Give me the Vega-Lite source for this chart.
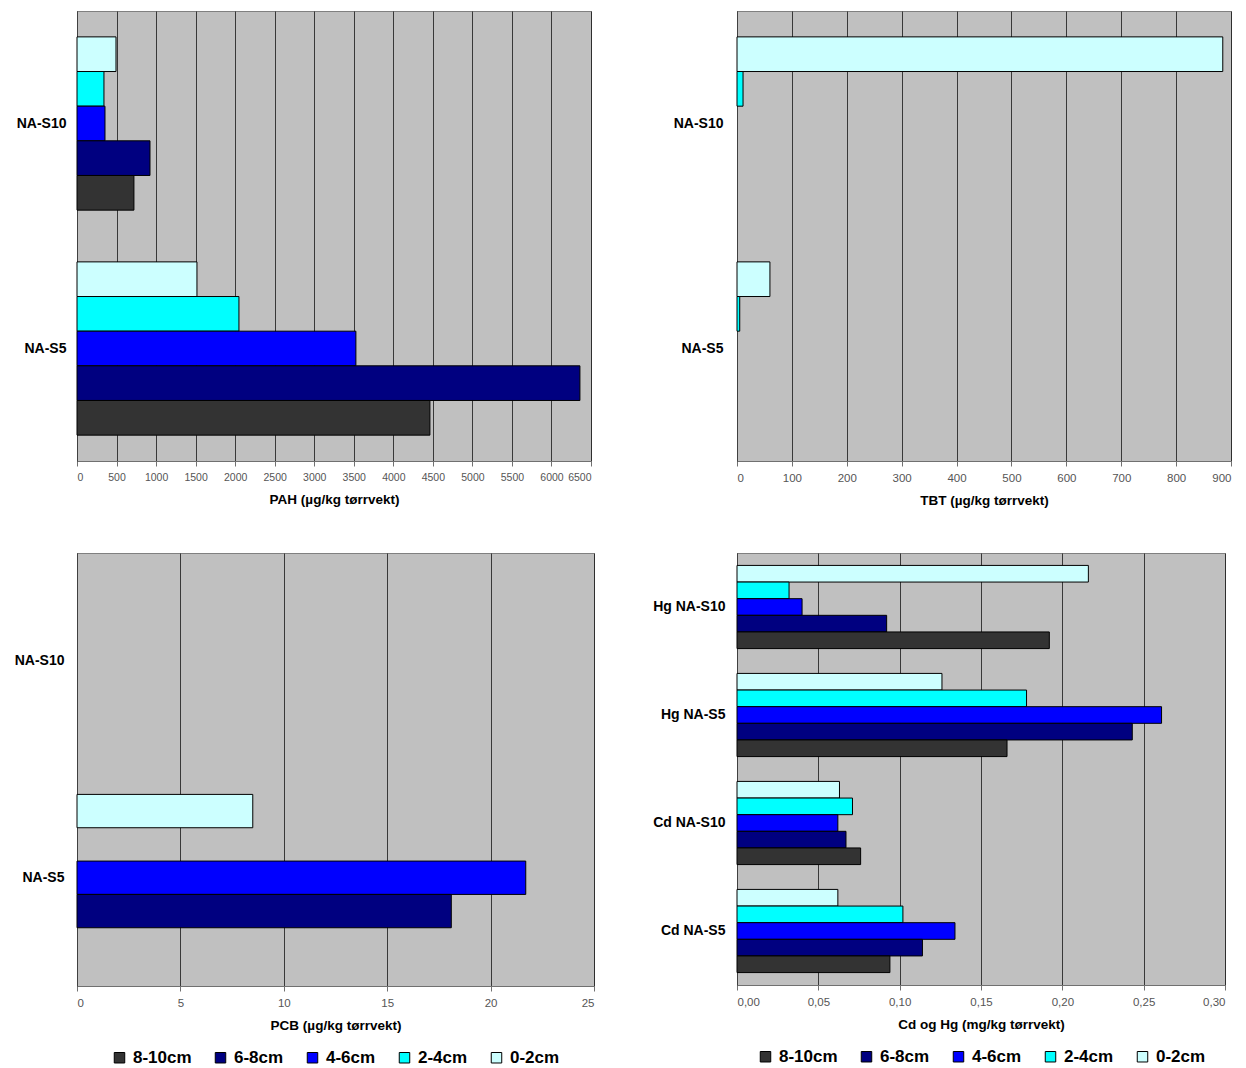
{
  "$schema": "https://vega.github.io/schema/vega-lite/v6.json",
  "padding": {"left": 5, "top": 10, "right": 5, "bottom": 5},
  "columns": 2,
  "bounds": "flush",
  "spacing": {"row": 92, "column": 143},
  "resolve": {
    "scale": {"x": "independent", "y": "independent", "yOffset": "independent", "color": "shared"},
    "legend": {"color": "independent"}
  },
  "concat": [
    {
      "width": 514,
      "height": 450,
      "data": {"values": [
        {"site": "NA-S10", "depth": "0-2cm", "value": 493},
        {"site": "NA-S10", "depth": "2-4cm", "value": 341},
        {"site": "NA-S10", "depth": "4-6cm", "value": 354},
        {"site": "NA-S10", "depth": "6-8cm", "value": 923},
        {"site": "NA-S10", "depth": "8-10cm", "value": 720},
        {"site": "NA-S5", "depth": "0-2cm", "value": 1517},
        {"site": "NA-S5", "depth": "2-4cm", "value": 2048},
        {"site": "NA-S5", "depth": "4-6cm", "value": 3527},
        {"site": "NA-S5", "depth": "6-8cm", "value": 6360},
        {"site": "NA-S5", "depth": "8-10cm", "value": 4463}
      ]},
      "mark": {"type": "bar", "stroke": "#000", "strokeWidth": 1},
      "encoding": {
        "y": {"field": "site", "type": "nominal", "scale": {"domain": ["NA-S10", "NA-S5"], "paddingInner": 0.23, "paddingOuter": 0.115}, "axis": {"minExtent": 71, "maxExtent": 71, "labelPadding": 11}},
        "yOffset": {"field": "depth", "type": "nominal", "scale": {"domain": ["0-2cm", "2-4cm", "4-6cm", "6-8cm", "8-10cm"], "paddingInner": 0, "paddingOuter": 0}},
        "x": {"field": "value", "type": "quantitative", "scale": {"domain": [0, 6500], "nice": false}, "axis": {"values": [0, 500, 1000, 1500, 2000, 2500, 3000, 3500, 4000, 4500, 5000, 5500, 6000, 6500], "format": "d", "labelFontSize": 10.5, "title": "PAH (µg/kg tørrvekt)"}},
        "color": {"field": "depth", "type": "nominal", "scale": {"domain": ["8-10cm", "6-8cm", "4-6cm", "2-4cm", "0-2cm"], "range": ["#333333", "#000080", "#0000FF", "#00FFFF", "#CCFFFF"]}, "legend": null}
      }
    },
    {
      "width": 494,
      "height": 450,
      "data": {"values": [
        {"site": "NA-S10", "depth": "0-2cm", "value": 885},
        {"site": "NA-S10", "depth": "2-4cm", "value": 11},
        {"site": "NA-S5", "depth": "0-2cm", "value": 60},
        {"site": "NA-S5", "depth": "2-4cm", "value": 5}
      ]},
      "mark": {"type": "bar", "stroke": "#000", "strokeWidth": 1},
      "encoding": {
        "y": {"field": "site", "type": "nominal", "scale": {"domain": ["NA-S10", "NA-S5"], "paddingInner": 0.23, "paddingOuter": 0.115}, "axis": {"labelPadding": 14}},
        "yOffset": {"field": "depth", "type": "nominal", "scale": {"domain": ["0-2cm", "2-4cm", "4-6cm", "6-8cm", "8-10cm"], "paddingInner": 0, "paddingOuter": 0}},
        "x": {"field": "value", "type": "quantitative", "scale": {"domain": [0, 900], "nice": false}, "axis": {"values": [0, 100, 200, 300, 400, 500, 600, 700, 800, 900], "format": "d", "title": "TBT (µg/kg tørrvekt)"}},
        "color": {"field": "depth", "type": "nominal", "scale": {"domain": ["8-10cm", "6-8cm", "4-6cm", "2-4cm", "0-2cm"], "range": ["#333333", "#000080", "#0000FF", "#00FFFF", "#CCFFFF"]}, "legend": null}
      }
    },
    {
      "width": 517,
      "height": 433,
      "data": {"values": [
        {"site": "NA-S5", "depth": "0-2cm", "value": 8.5},
        {"site": "NA-S5", "depth": "4-6cm", "value": 21.7},
        {"site": "NA-S5", "depth": "6-8cm", "value": 18.1}
      ]},
      "mark": {"type": "bar", "stroke": "#000", "strokeWidth": 1},
      "encoding": {
        "y": {"field": "site", "type": "nominal", "scale": {"domain": ["NA-S10", "NA-S5"], "paddingInner": 0.23, "paddingOuter": 0.115}, "axis": {"minExtent": 70, "maxExtent": 70, "labelPadding": 13}},
        "yOffset": {"field": "depth", "type": "nominal", "scale": {"domain": ["0-2cm", "2-4cm", "4-6cm", "6-8cm", "8-10cm"], "paddingInner": 0, "paddingOuter": 0}},
        "x": {"field": "value", "type": "quantitative", "scale": {"domain": [0, 25], "nice": false}, "axis": {"values": [0, 5, 10, 15, 20, 25], "format": "d", "title": "PCB (µg/kg tørrvekt)"}},
        "color": {"field": "depth", "type": "nominal", "scale": {"domain": ["8-10cm", "6-8cm", "4-6cm", "2-4cm", "0-2cm"], "range": ["#333333", "#000080", "#0000FF", "#00FFFF", "#CCFFFF"]}, "legend": {"orient": "bottom", "direction": "horizontal", "title": null}}
      }
    },
    {
      "width": 488,
      "height": 432,
      "data": {"values": [
        {"site": "Hg NA-S10", "depth": "0-2cm", "value": 0.216},
        {"site": "Hg NA-S10", "depth": "2-4cm", "value": 0.032},
        {"site": "Hg NA-S10", "depth": "4-6cm", "value": 0.040},
        {"site": "Hg NA-S10", "depth": "6-8cm", "value": 0.092},
        {"site": "Hg NA-S10", "depth": "8-10cm", "value": 0.192},
        {"site": "Hg NA-S5", "depth": "0-2cm", "value": 0.126},
        {"site": "Hg NA-S5", "depth": "2-4cm", "value": 0.178},
        {"site": "Hg NA-S5", "depth": "4-6cm", "value": 0.261},
        {"site": "Hg NA-S5", "depth": "6-8cm", "value": 0.243},
        {"site": "Hg NA-S5", "depth": "8-10cm", "value": 0.166},
        {"site": "Cd NA-S10", "depth": "0-2cm", "value": 0.063},
        {"site": "Cd NA-S10", "depth": "2-4cm", "value": 0.071},
        {"site": "Cd NA-S10", "depth": "4-6cm", "value": 0.062},
        {"site": "Cd NA-S10", "depth": "6-8cm", "value": 0.067},
        {"site": "Cd NA-S10", "depth": "8-10cm", "value": 0.076},
        {"site": "Cd NA-S5", "depth": "0-2cm", "value": 0.062},
        {"site": "Cd NA-S5", "depth": "2-4cm", "value": 0.102},
        {"site": "Cd NA-S5", "depth": "4-6cm", "value": 0.134},
        {"site": "Cd NA-S5", "depth": "6-8cm", "value": 0.114},
        {"site": "Cd NA-S5", "depth": "8-10cm", "value": 0.094}
      ]},
      "mark": {"type": "bar", "stroke": "#000", "strokeWidth": 1},
      "encoding": {
        "y": {"field": "site", "type": "nominal", "scale": {"domain": ["Hg NA-S10", "Hg NA-S5", "Cd NA-S10", "Cd NA-S5"], "paddingInner": 0.23, "paddingOuter": 0.115}, "axis": {"labelPadding": 12}},
        "yOffset": {"field": "depth", "type": "nominal", "scale": {"domain": ["0-2cm", "2-4cm", "4-6cm", "6-8cm", "8-10cm"], "paddingInner": 0, "paddingOuter": 0}},
        "x": {"field": "value", "type": "quantitative", "scale": {"domain": [0, 0.3], "nice": false}, "axis": {"values": [0, 0.05, 0.1, 0.15, 0.2, 0.25, 0.3], "labelExpr": "replace(format(datum.value, '.2f'), '.', ',')", "title": "Cd og Hg (mg/kg tørrvekt)"}},
        "color": {"field": "depth", "type": "nominal", "scale": {"domain": ["8-10cm", "6-8cm", "4-6cm", "2-4cm", "0-2cm"], "range": ["#333333", "#000080", "#0000FF", "#00FFFF", "#CCFFFF"]}, "legend": {"orient": "bottom", "direction": "horizontal", "title": null}}
      }
    }
  ],
  "config": {
    "font": "Liberation Sans",
    "background": "#ffffff",
    "view": {"fill": "#C0C0C0", "stroke": "#808080", "strokeWidth": 1},
    "axisX": {
      "grid": true, "gridColor": "#202020", "gridWidth": 1, "gridOpacity": 0.85,
      "domainColor": "#707070", "tickColor": "#707070", "tickSize": 5,
      "labelColor": "#555555", "labelFontSize": 11.5, "labelPadding": 6,
      "titleFontSize": 13.5, "titleFontWeight": "bold", "titleColor": "#000000", "titlePadding": 10
    },
    "axisY": {
      "grid": false, "ticks": false, "domainColor": "#404040",
      "labelFontSize": 14, "labelFontWeight": "bold", "labelColor": "#000000", "title": null
    },
    "legend": {
      "symbolType": "square", "symbolSize": 110, "symbolStrokeColor": "#000000", "symbolStrokeWidth": 1,
      "labelFontSize": 17, "labelFontWeight": "bold", "labelColor": "#000000",
      "columnPadding": 20, "symbolOffset": 0, "offset": 17, "labelOffset": 5,
      "layout": {"bottom": {"anchor": "middle"}}
    }
  }
}
